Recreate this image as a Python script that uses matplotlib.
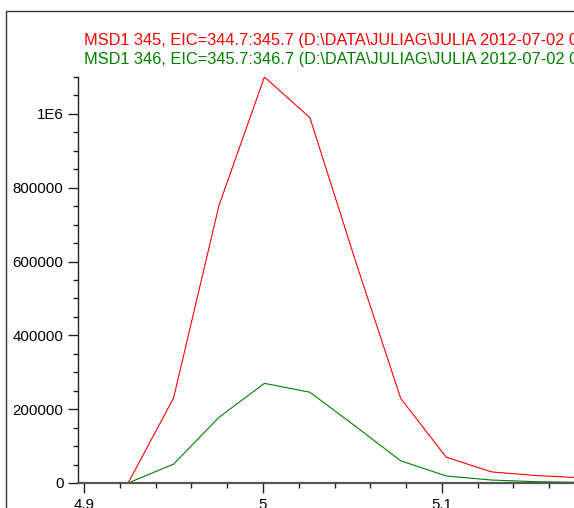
import matplotlib
matplotlib.use("Agg")
import matplotlib.pyplot as plt
from matplotlib.ticker import MultipleLocator, FuncFormatter
from matplotlib.patches import Rectangle

plt.rcParams['font.family'] = ['Liberation Sans', 'DejaVu Sans']

# Retention time (min)
rt = [4.8738, 4.8992, 4.9246, 4.9500, 4.9754, 5.0008, 5.0262, 5.0516,
      5.0770, 5.1024, 5.1278, 5.1532, 5.1786]
# Intensities
msd1_345 = [0, 0, 0, 230000, 752000, 1100000, 990000, 603000,
            229000, 70000, 30000, 20000, 14000]
msd1_346 = [0, 0, 0, 51000, 178000, 270000, 246000, 154000,
            60000, 19000, 8000, 3500, 1500]
label_345 = r"MSD1 345, EIC=344.7:345.7 (D:\DATA\JULIAG\JULIA 2012-07-02 08-25-33\TRY1.D)"
label_346 = r"MSD1 346, EIC=345.7:346.7 (D:\DATA\JULIAG\JULIA 2012-07-02 08-25-33\TRY1.D)"

W, H = 574, 508
fig = plt.figure(figsize=(W / 100, H / 100), dpi=100)
fig.patch.set_facecolor('white')

# outer frame
fig.patches.append(Rectangle((6 / W, -0.1), 1.2, 1 - 11 / H + 0.1,
                             transform=fig.transFigure, fill=False,
                             edgecolor='#333333', linewidth=1.0))

ax = fig.add_axes([78 / W, 25 / H, (W - 78) / W + 0.01, (483 - 77) / H])
ax.plot(rt, msd1_345, color='#ff0000', linewidth=0.8)
ax.plot(rt, msd1_346, color='#008000', linewidth=0.8)

ax.set_xlim(4.8966, 4.8966 + (W - 78 + 6) / 1790)
ax.set_ylim(0, 1.1e6)

for s in ['top', 'right']:
    ax.spines[s].set_visible(False)
ax.spines['left'].set_color('#222222')
ax.spines['bottom'].set_color('#555555')
ax.spines['bottom'].set_linewidth(1.6)
ax.spines['left'].set_linewidth(1.0)

ax.xaxis.set_major_locator(MultipleLocator(0.1))
ax.xaxis.set_minor_locator(MultipleLocator(0.02))
ax.yaxis.set_major_locator(MultipleLocator(200000))
ax.yaxis.set_minor_locator(MultipleLocator(50000))


def yfmt(v, p):
    if v >= 1e6:
        return "1E6"
    return "%d" % int(round(v))


def xfmt(v, p):
    s = "%.1f" % v
    if s.endswith(".0"):
        s = s[:-2]
    return s


ax.yaxis.set_major_formatter(FuncFormatter(yfmt))
ax.xaxis.set_major_formatter(FuncFormatter(xfmt))
ax.tick_params(which='major', length=7.5, width=1.0, color='#222222',
               labelsize=10.8, pad=3)
ax.tick_params(which='minor', length=3.5, width=1.0, color='#222222')

fig.text(84 / W, 1 - 45 / H, label_345, color='#ff0000', fontsize=11.8)
fig.text(84 / W, 1 - 64 / H, label_346, color='#008000', fontsize=11.8)

fig.savefig("out.png", dpi=100)
